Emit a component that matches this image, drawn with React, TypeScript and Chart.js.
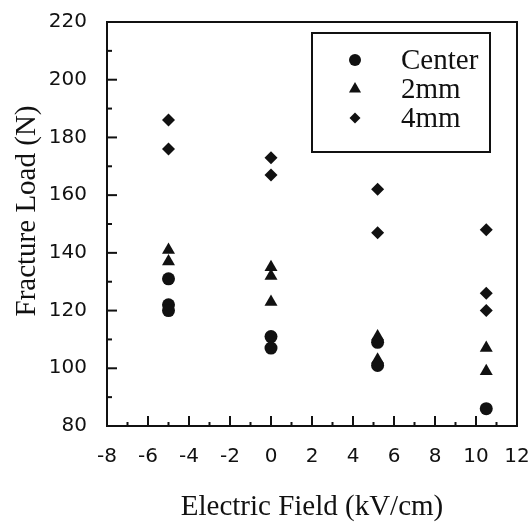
import React, { useEffect, useRef } from "react";
import { Chart, registerables } from "chart.js";

Chart.register(...registerables);

// ---- data ----
const FIELD_CENTER = [-5, -5, -5, 0, 0, 5.2, 5.2, 10.5];
const LOAD_CENTER = [131, 122, 120, 111, 107, 109, 101, 86];

const FIELD_2MM = [-5, -5, 0, 0, 0, 5.2, 5.2, 10.5, 10.5];
const LOAD_2MM = [141, 137, 135, 132, 123, 111, 103, 107, 99];

const FIELD_4MM = [-5, -5, 0, 0, 5.2, 5.2, 10.5, 10.5, 10.5];
const LOAD_4MM = [186, 176, 173, 167, 162, 147, 148, 126, 120];

const SERIES_NAMES = ["Center", "2mm", "4mm"];
const X_TICKS = [-8, -6, -4, -2, 0, 2, 4, 6, 8, 10, 12];
const Y_TICKS = [80, 100, 120, 140, 160, 180, 200, 220];
const X_TITLE = "Electric Field (kV/cm)";
const Y_TITLE = "Fracture Load (N)";

const INK = "#111111";
const SERIF = '"Liberation Serif", "Times New Roman", serif';
const SANS = '"DejaVu Sans", sans-serif';

const toPoints = (xs: number[], ys: number[]) => xs.map((x, i) => ({ x, y: ys[i] }));

function drawMarker(ctx: CanvasRenderingContext2D, style: string, x: number, y: number, r: number) {
  ctx.beginPath();
  if (style === "circle") {
    ctx.arc(x, y, r, 0, Math.PI * 2);
  } else if (style === "triangle") {
    ctx.moveTo(x, y - r);
    ctx.lineTo(x + r * 0.866, y + r * 0.5);
    ctx.lineTo(x - r * 0.866, y + r * 0.5);
    ctx.closePath();
  } else {
    ctx.moveTo(x, y - r);
    ctx.lineTo(x + r, y);
    ctx.lineTo(x, y + r);
    ctx.lineTo(x - r, y);
    ctx.closePath();
  }
  ctx.fill();
}

const decorPlugin = {
  id: "decor",
  afterDraw(chart: any) {
    const { ctx, chartArea: a, scales } = chart;
    const xs = scales.x;
    const ys = scales.y;
    ctx.save();
    ctx.strokeStyle = INK;
    ctx.fillStyle = INK;

    // frame
    ctx.lineWidth = 2;
    ctx.strokeRect(a.left, a.top, a.right - a.left, a.bottom - a.top);

    // inward y ticks (major + minor)
    for (let i = 0; i < Y_TICKS.length; i++) {
      const v = Y_TICKS[i];
      const py = ys.getPixelForValue(v);
      ctx.beginPath();
      ctx.moveTo(a.left, py);
      ctx.lineTo(a.left + 10, py);
      ctx.stroke();
      if (i < Y_TICKS.length - 1) {
        const pm = ys.getPixelForValue((v + Y_TICKS[i + 1]) / 2);
        ctx.beginPath();
        ctx.moveTo(a.left, pm);
        ctx.lineTo(a.left + 5, pm);
        ctx.stroke();
      }
    }
    // inward x ticks (major + minor)
    for (let i = 0; i < X_TICKS.length; i++) {
      const v = X_TICKS[i];
      const px = xs.getPixelForValue(v);
      ctx.beginPath();
      ctx.moveTo(px, a.bottom);
      ctx.lineTo(px, a.bottom - 10);
      ctx.stroke();
      if (i < X_TICKS.length - 1) {
        const pm = xs.getPixelForValue((v + X_TICKS[i + 1]) / 2);
        ctx.beginPath();
        ctx.moveTo(pm, a.bottom);
        ctx.lineTo(pm, a.bottom - 4);
        ctx.stroke();
      }
    }

    // axis titles
    ctx.font = `29px ${SERIF}`;
    ctx.textAlign = "center";
    ctx.textBaseline = "middle";
    ctx.fillText(X_TITLE, (a.left + a.right) / 2, a.bottom + 81);
    ctx.save();
    ctx.translate(27, a.top + 189);
    ctx.rotate(-Math.PI / 2);
    ctx.fillText(Y_TITLE, 0, 0);
    ctx.restore();

    // legend box
    const bx = a.right - 205;
    const by = a.top + 11;
    const bw = 178;
    const bh = 119;
    ctx.lineWidth = 2;
    ctx.strokeRect(bx, by, bw, bh);
    ctx.textAlign = "left";
    ctx.font = `29px ${SERIF}`;
    const styles = ["circle", "triangle", "rectRot"];
    const radii = [6, 7, 5.5];
    chart.data.datasets.forEach((ds: any, i: number) => {
      const ry = by + 27 + i * 29;
      drawMarker(ctx, styles[i], bx + 43, ry, radii[i]);
      ctx.fillText(ds.label, bx + 89, ry + 1);
    });

    ctx.restore();
  },
};

export default function App() {
  const ref = useRef<HTMLCanvasElement | null>(null);

  useEffect(() => {
    if (!ref.current) return;
    const chart = new Chart(ref.current, {
      type: "scatter",
      data: {
        datasets: [
          {
            label: SERIES_NAMES[0],
            data: toPoints(FIELD_CENTER, LOAD_CENTER),
            pointStyle: "circle",
            pointRadius: 6.5,
            backgroundColor: INK,
            borderColor: INK,
            borderWidth: 0,
          },
          {
            label: SERIES_NAMES[1],
            data: toPoints(FIELD_2MM, LOAD_2MM),
            pointStyle: "triangle",
            pointRadius: 7.5,
            backgroundColor: INK,
            borderColor: INK,
            borderWidth: 0,
          },
          {
            label: SERIES_NAMES[2],
            data: toPoints(FIELD_4MM, LOAD_4MM),
            pointStyle: "rectRot",
            pointRadius: 6.5,
            backgroundColor: INK,
            borderColor: INK,
            borderWidth: 0,
          },
        ],
      },
      options: {
        responsive: false,
        animation: false,
        events: [],
        layout: { padding: { left: 0, top: 22, right: 15, bottom: 0 } },
        plugins: {
          legend: { display: false },
          tooltip: { enabled: false },
        },
        scales: {
          x: {
            type: "linear",
            min: -8,
            max: 12,
            afterBuildTicks: (s: any) => {
              s.ticks = X_TICKS.map((v) => ({ value: v }));
            },
            afterFit: (s: any) => {
              s.height = 98;
              s.paddingLeft = 0;
              s.paddingRight = 0;
            },
            grid: { display: false, drawTicks: false },
            border: { display: false },
            ticks: {
              color: INK,
              font: { family: SANS, size: 20 },
              padding: 19,
              maxRotation: 0,
              autoSkip: false,
            },
          },
          y: {
            type: "linear",
            min: 80,
            max: 220,
            afterBuildTicks: (s: any) => {
              s.ticks = Y_TICKS.map((v) => ({ value: v }));
            },
            afterFit: (s: any) => {
              s.width = 107;
              s.paddingTop = 0;
              s.paddingBottom = 0;
            },
            grid: { display: false, drawTicks: false },
            border: { display: false },
            ticks: {
              color: INK,
              font: { family: SANS, size: 20 },
              padding: 20,
              autoSkip: false,
            },
          },
        },
      },
      plugins: [decorPlugin],
    });
    return () => chart.destroy();
  }, []);

  return (
    <div style={{ position: "absolute", left: 0, top: 0, width: 532, height: 524, background: "#fff" }}>
      <canvas ref={ref} width={532} height={524} />
    </div>
  );
}
